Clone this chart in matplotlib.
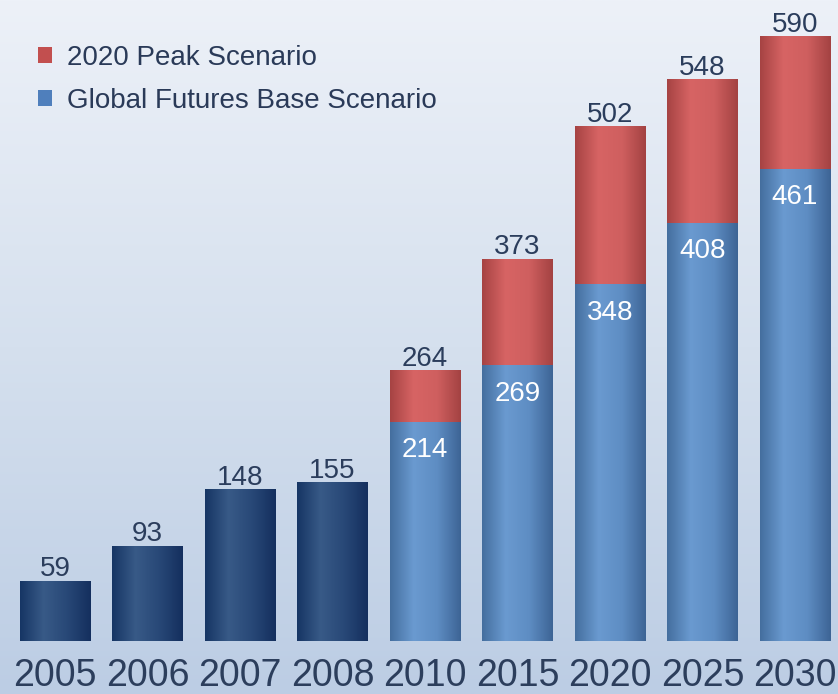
import numpy as np
import matplotlib
matplotlib.use("Agg")
import matplotlib.pyplot as plt
from matplotlib.colors import LinearSegmentedColormap
from matplotlib.patches import Patch
import matplotlib.transforms as mtransforms

plt.rcParams['font.family'] = ['Liberation Sans', 'DejaVu Sans']

years = ["2005", "2006", "2007", "2008", "2010", "2015", "2020", "2025", "2030"]
historical = [59, 93, 148, 155, None, None, None, None, None]
base = [None, None, None, None, 214, 269, 348, 408, 461]
peak = [None, None, None, None, 264, 373, 502, 548, 590]
legend_labels = ["2020 Peak Scenario", "Global Futures Base Scenario"]

W, H = 838, 694
fig = plt.figure(figsize=(W / 100, H / 100), dpi=100)
ax = fig.add_axes([0, 0, 1, 1])
xmin, xmax = -0.595, 8.465
ymin, ymax = -51.7, 625.4
ax.set_xlim(xmin, xmax)
ax.set_ylim(ymin, ymax)
ax.axis('off')

# background gradient
bg = LinearSegmentedColormap.from_list('bg', ['#bccde4', '#d5e0ee', '#edf1f8'])
grad = np.linspace(0, 1, 256).reshape(-1, 1)
ax.imshow(grad, cmap=bg, aspect='auto', extent=[xmin, xmax, ymin, ymax],
          origin='lower', zorder=0)

cm_hist = LinearSegmentedColormap.from_list('h', ['#163564', '#385a87', '#284877', '#142f5e'])
cm_blue = LinearSegmentedColormap.from_list('b', ['#446e9e', '#6a9ad0', '#5e8dc3', '#3d6495'])
cm_red = LinearSegmentedColormap.from_list('r', ['#a64343', '#d76464', '#cf5f5f', '#a34242'])
hgrad = np.linspace(0, 1, 256).reshape(1, -1)

width = 0.76
x = np.arange(len(years))


def grad_bars(xs, heights, bottoms, cmap):
    bars = ax.bar(xs, heights, width=width, bottom=bottoms, color='none',
                  edgecolor='none', zorder=2)
    for b in bars:
        x0, y0 = b.get_x(), b.get_y()
        im = ax.imshow(hgrad, cmap=cmap, aspect='auto',
                       extent=[x0, x0 + b.get_width(), y0, y0 + b.get_height()],
                       zorder=2)
        im.set_clip_path(b)
    return bars


hx = [i for i, v in enumerate(historical) if v is not None]
hv = [historical[i] for i in hx]
grad_bars(hx, hv, 0, cm_hist)

fx = [i for i, v in enumerate(base) if v is not None]
bv = [base[i] for i in fx]
pv = [peak[i] - base[i] for i in fx]
grad_bars(fx, bv, 0, cm_blue)
grad_bars(fx, pv, bv, cm_red)

ax.set_xlim(xmin, xmax)
ax.set_ylim(ymin, ymax)

dark = '#2b3d5c'
for i in hx:
    ax.annotate(str(historical[i]), (x[i], historical[i]), xytext=(0, 3.2),
                textcoords='offset points', ha='center', va='baseline',
                fontsize=20, color=dark, zorder=5)
for i in fx:
    ax.annotate(str(peak[i]), (x[i], peak[i]), xytext=(0, 3.2),
                textcoords='offset points', ha='center', va='baseline',
                fontsize=20, color=dark, zorder=5)
    ax.annotate(str(base[i]), (x[i], base[i]), xytext=(0, -25.5),
                textcoords='offset points', ha='center', va='baseline',
                fontsize=20, color='white', zorder=5)

trans = mtransforms.blended_transform_factory(ax.transData, ax.transAxes)
for i, yr in enumerate(years):
    ax.text(x[i], 8 / H, yr, transform=trans, ha='center', va='baseline',
            fontsize=27, color='#2c3e5c', zorder=5)

handles = [Patch(facecolor='#c24f4f', edgecolor='none'),
           Patch(facecolor='#4f7fbc', edgecolor='none')]
leg = ax.legend(handles, legend_labels, loc='upper left',
                bbox_to_anchor=(38 / W, 1 - 45 / H), frameon=False,
                fontsize=20, handlelength=0.5, handleheight=0.5,
                handletextpad=0.55, labelspacing=0.62, borderaxespad=0,
                borderpad=0)
for t in leg.get_texts():
    t.set_color('#2a3a58')

fig.savefig('out.png', dpi=100)
